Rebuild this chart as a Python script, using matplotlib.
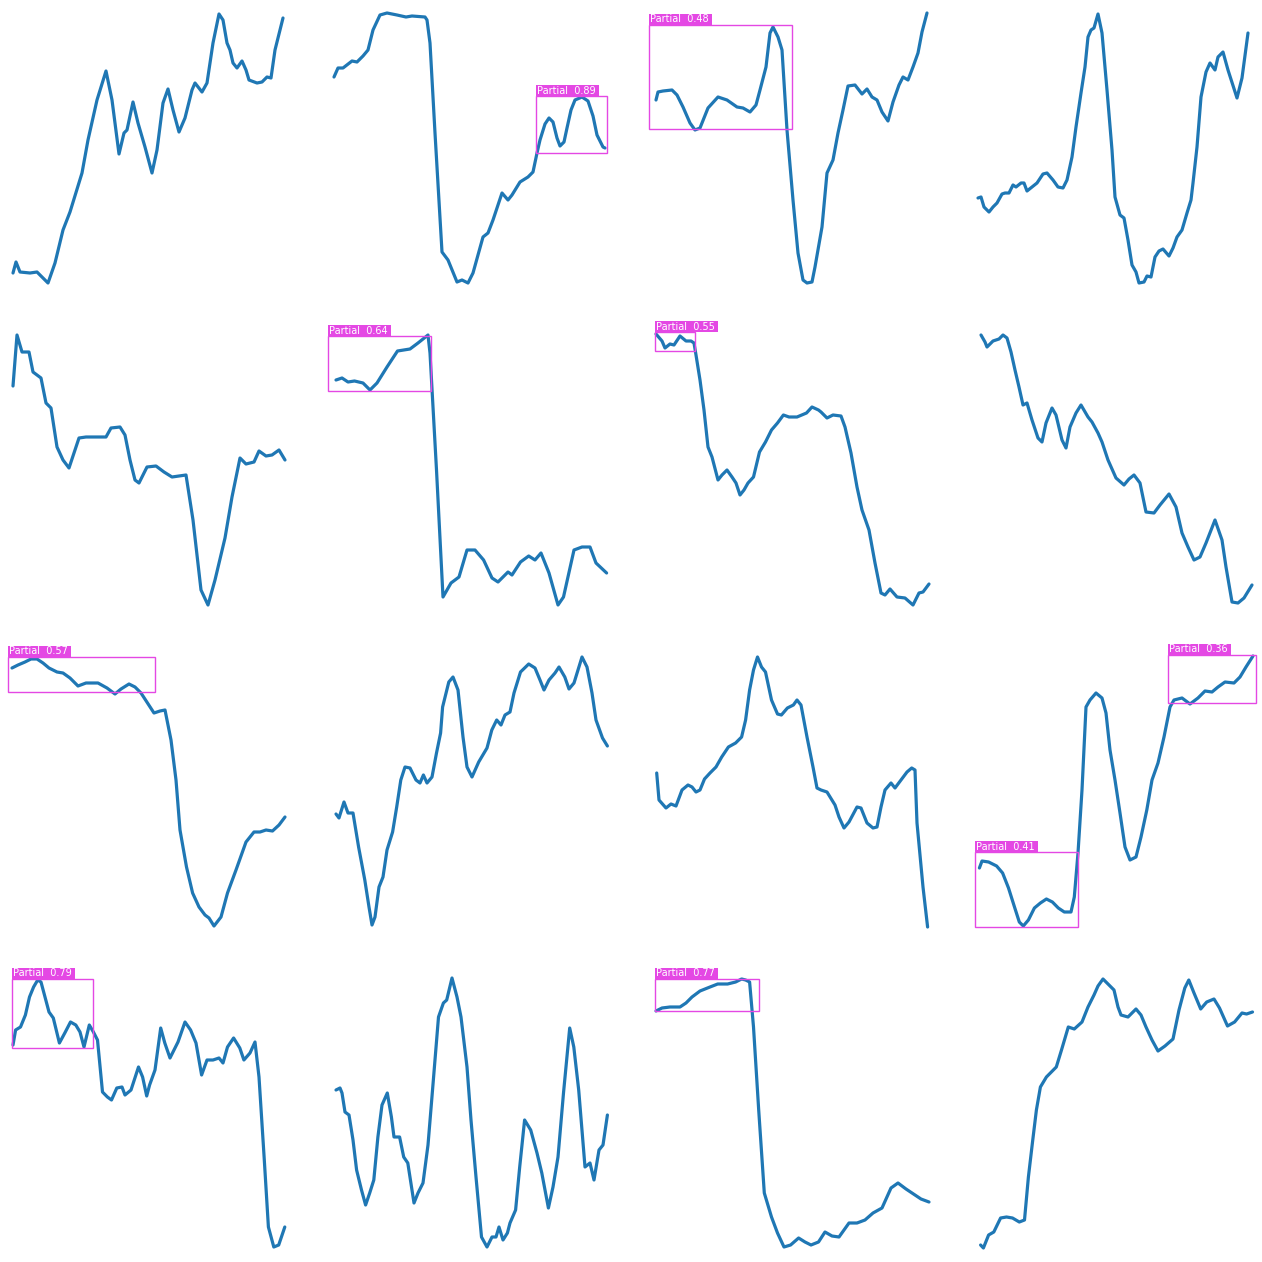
"""Cuadrícula 4x4 de series con detecciones 'Partial' superpuestas."""

import matplotlib

matplotlib.use("Agg")
from matplotlib import pyplot as plt  # noqa: E402
from matplotlib.patches import Rectangle  # noqa: E402

# Cada serie: posición horizontal y valor, en unidades locales del panel (0..285).
s01_x = [8, 11, 15, 25, 32, 43, 50, 58, 65, 77, 83, 92, 101, 107, 114, 119, 122, 128, 133, 140,
         147, 152, 158, 163, 168, 174, 180, 187, 190, 197, 202, 208, 214, 218, 222, 225, 228, 232,
         237, 241, 244, 252, 257, 262, 266, 270, 278]
s01_y = [17, 28, 18, 17, 18, 7, 27, 60, 78, 117, 150, 190, 219, 190, 136, 157, 160, 188, 167, 143,
         117, 140, 187, 201, 180, 158, 172, 200, 207, 198, 207, 247, 276, 270, 247, 240, 227, 222,
         229, 220, 210, 207, 208, 213, 212, 240, 272]

s02_x = [7, 11, 16, 25, 30, 36, 41, 46, 53, 60, 70, 79, 85, 98, 100, 103, 108, 115, 121, 130, 135,
         141, 146, 156, 161, 166, 175, 181, 185, 193, 201, 206, 210, 213, 218, 222, 226, 230, 233,
         237, 240, 244, 248, 255, 261, 266, 270, 276, 278]
s02_y = [213, 222, 222, 229, 228, 234, 240, 260, 275, 277, 275, 273, 274, 273, 270, 247, 157, 38,
         30, 8, 10, 7, 17, 53, 57, 70, 97, 90, 95, 108, 113, 118, 137, 150, 166, 172, 168, 152, 144,
         148, 162, 180, 190, 193, 189, 174, 155, 143, 142]

s03_x = [7, 9, 14, 23, 28, 34, 41, 46, 51, 59, 69, 78, 88, 94, 101, 107, 111, 117, 121, 124, 129,
         133, 138, 144, 149, 154, 158, 163, 166, 173, 178, 184, 189, 194, 199, 206, 213, 218, 223,
         228, 233, 239, 244, 250, 254, 259, 264, 269, 273, 278]
s03_y = [190, 198, 199, 200, 195, 183, 167, 160, 162, 182, 193, 190, 183, 182, 178, 185, 200, 223,
         257, 263, 253, 240, 160, 90, 37, 10, 7, 8, 23, 63, 117, 130, 157, 180, 204, 205, 196, 201,
         193, 190, 178, 169, 188, 205, 213, 210, 223, 237, 258, 277]

s04_x = [7, 10, 13, 18, 22, 26, 31, 34, 38, 42, 45, 50, 53, 56, 61, 66, 72, 76, 82, 87, 92, 96, 101,
         105, 110, 114, 117, 120, 123, 127, 131, 136, 141, 144, 149, 153, 157, 161, 165, 168, 173,
         176, 180, 184, 188, 192, 198, 202, 206, 211, 216, 220, 222, 226, 230, 235, 239, 244, 247,
         252, 257, 266, 271, 277]
s04_y = [92, 93, 83, 78, 83, 87, 96, 97, 97, 105, 103, 107, 107, 99, 103, 107, 116, 117, 110, 103,
         102, 110, 133, 163, 197, 223, 253, 260, 262, 276, 257, 200, 140, 93, 75, 72, 50, 25, 18, 7,
         8, 14, 13, 33, 39, 41, 34, 42, 53, 60, 77, 90, 107, 143, 193, 218, 227, 220, 233, 238, 220,
         192, 212, 257]

s05_x = [8, 12, 17, 24, 28, 36, 41, 46, 52, 58, 64, 69, 74, 81, 89, 101, 106, 115, 120, 125, 130,
         134, 142, 151, 159, 167, 181, 188, 196, 203, 210, 220, 227, 235, 241, 249, 254, 261, 267,
         274, 280]
s05_y = [226, 277, 260, 260, 240, 234, 209, 204, 165, 152, 144, 159, 174, 175, 175, 175, 184, 185,
         177, 152, 132, 129, 145, 146, 140, 135, 137, 92, 22, 7, 32, 74, 115, 154, 148, 150, 161,
         156, 157, 162, 152]

s06_x = [9, 15, 21, 27.5, 36, 43, 50, 60, 70.5, 83, 91, 101, 103, 109.5, 116, 124, 132, 140, 148,
         156.6, 165, 171, 181, 185, 193.5, 201.7, 208, 214, 222, 231, 236.5, 247, 255, 263, 269,
         279.6]
s06_y = [232, 234, 230, 231, 229, 222, 229, 245, 261, 263, 269, 277, 259, 142, 15, 29, 35, 62, 62,
         52, 34, 30, 40, 37, 50, 56, 52, 59, 39, 7, 15, 62, 65, 65, 49, 39]

s07_x = [7, 13, 16, 21, 25, 31, 37, 42, 45, 47, 51, 55, 59, 63, 69, 73, 78, 83, 87, 91, 95, 99,
         104.5, 110.5, 116.5, 122.5, 128.5, 134.4, 140, 148, 157.5, 163, 169.5, 172, 178, 184, 192,
         196, 202, 208, 213, 220, 226, 232, 236, 241, 248, 256, 264, 270, 274, 280]
s07_y = [278, 271, 264, 268, 267, 276, 271, 271, 269, 257, 232, 202, 165, 155, 132, 137, 142, 135,
         129, 117, 122, 129, 135, 160, 170, 182, 189, 197, 195, 195, 199, 205, 202, 200, 194, 197,
         196, 185, 159, 125, 102, 82, 49, 19, 17, 23, 15, 14, 7, 19, 20, 28]

s08_x = [10, 14, 16, 22, 28, 32, 36, 40, 44, 48, 52, 56, 61, 67, 71, 75, 81, 85, 91, 95, 99, 105,
         110, 117, 121, 127, 131, 137, 145, 153, 158, 163, 169, 175, 183, 189, 198, 205, 211, 217,
         223, 229, 235, 244, 251, 255, 261, 267, 273, 281]
s08_y = [277, 270, 265, 271, 273, 277, 274, 260, 242, 225, 207, 209, 192, 174, 170, 189, 204, 197,
         172, 164, 185, 199, 207, 195, 190, 179, 170, 152, 134, 127, 133, 137, 129, 100, 99, 107,
         118, 105, 79, 65, 52, 55, 69, 92, 72, 45, 10, 9, 14, 27]

s09_x = [7, 13, 20, 26, 32, 38, 44, 52, 58, 65, 73, 81, 93, 102, 110, 116, 124, 130, 136, 142.5,
         149, 155, 160, 166, 171, 175, 181.5, 187.6, 194, 200, 204, 209, 216, 222.5, 231, 241, 249,
         255, 261, 267.5, 274, 280]
s09_y = [266, 269, 272, 275, 275, 271, 266, 262, 261, 256, 248, 251, 251, 246, 240, 245, 250, 247,
         241, 231, 221, 223, 224, 194, 154, 104, 67, 41, 27, 19, 16, 8, 17, 41, 64, 92, 102, 102,
         104, 103, 109, 117]

s10_x = [9, 12, 17, 21, 26, 31.6, 37.8, 42, 45, 48, 52, 56, 60, 65.6, 69.7, 73.8, 78, 83, 89, 93,
         96.4, 100, 105, 109.5, 113.6, 115.6, 121.8, 126, 131, 136, 140, 145, 151.7, 160, 164.8,
         169.7, 174, 178, 183, 187, 193.5, 201.7, 208, 213, 217, 222, 228, 232, 237.8, 242, 247,
         255, 260, 265, 269, 275.5, 280.4]
s10_y = [120, 116, 132, 121, 121, 87, 54, 27, 9, 17, 47, 57, 84, 102, 127, 154, 167, 166, 154, 151,
         159, 151, 157, 181, 201, 227, 252, 257, 244, 197, 167, 157, 172, 186, 204, 214, 209, 219,
         222, 241, 262, 270, 266, 254, 244, 254, 261, 267, 257, 245, 251, 277, 267, 241, 214, 196,
         188]

s11_x = [7.7, 10, 17, 22, 27, 33, 39, 43, 47, 51, 55.5, 61, 67, 72.7, 79.4, 86.6, 92.6, 96.6, 100.6,
         104.5, 108.5, 112.5, 116.5, 122.5, 128.5, 132.4, 138.4, 144.4, 148, 152, 158, 164, 168,
         172, 178, 186, 190, 195, 200, 208, 212, 218, 224, 228, 232, 236, 242, 246, 252, 258, 262.7,
         266, 268, 274, 278.6]
s11_y = [161, 134, 126, 130, 128, 144, 149, 147, 142, 144, 155, 161, 167, 177, 187, 191, 197, 214,
         244, 264, 277, 267, 262, 234, 220, 219, 226, 229, 234, 229, 197, 167, 146, 144, 142, 129,
         117, 106, 112, 127, 126, 111, 106, 107, 127, 144, 151, 146, 154, 162, 166, 164, 111, 47, 7]

s12_x = [8.4, 11, 17.6, 25.6, 31.6, 37.5, 43.5, 48.3, 52.3, 57.4, 63.4, 69.4, 75.4, 81.4, 87.3, 93.3,
         100, 103.3, 107, 111, 115, 119, 125, 131, 135, 139, 144, 149, 154, 159, 165, 170, 175.8,
         181, 187, 193, 199, 203, 211, 219, 227, 234, 241, 247, 254, 263, 269, 275, 282]
s12_y = [66, 73, 72, 68, 61, 46, 27, 12, 8, 14, 26, 31, 35, 32, 26, 22, 22, 37, 81, 144, 227, 234,
         241, 236, 221, 184, 154, 121, 87, 74, 77, 97, 124, 154, 171, 197, 227, 234, 236, 230, 236,
         243, 242, 247, 252, 251, 257, 267, 278]

s13_x = [8, 10.6, 15.5, 20.4, 24.5, 28.6, 32.7, 36, 40, 44, 48.3, 54.4, 59.8, 65.5, 70.8, 75, 79,
         84.3, 88.4, 92.5, 97.5, 102.4, 106.5, 111.8, 117, 120, 126, 133.5, 137.6, 141.7, 144.6, 150,
         155.7, 159.8, 165, 173, 180, 185.6, 191, 196.6, 202, 208, 214, 218, 222.5, 228.6, 234.8,
         238.9, 245, 250, 254, 259.3, 263.4, 268.8, 273.7, 279.8]
s13_y = [211, 226, 229, 241, 259, 269, 276, 274, 259, 244, 238, 213, 223, 234, 231, 224, 209, 231,
         224, 216, 164, 159, 156, 168, 169, 161, 166, 189, 179, 160, 171, 186, 228, 213, 198, 214,
         234, 226, 213, 181, 196, 196, 198, 193, 209, 218, 208, 196, 203, 214, 179, 96, 29, 9, 11,
         29]

s14_x = [9, 13, 15, 18, 22, 26, 29.6, 34.5, 38.6, 42.7, 46.8, 50.9, 55, 60.3, 64.4, 67, 72.6, 76.7,
         80.8, 87, 91, 96, 101, 106.6, 111.5, 116.4, 119.7, 125, 130, 134, 140, 144, 149, 154.5,
         160, 165, 169, 172, 176, 180.4, 183, 188.6, 192.7, 197.6, 203.7, 210, 214.8, 221.4, 226,
         231, 236.5, 242.7, 246.8, 251.7, 258, 263, 267, 272, 276, 280.4]
s14_y = [166, 168, 163, 144, 141, 116, 86, 66, 51, 63, 76, 119, 151, 163, 139, 119, 119, 99, 93, 53,
         63, 73, 111, 179, 239, 253, 256, 278, 259, 239, 189, 136, 79, 19, 9, 19, 19, 29, 16, 23,
         33, 46, 89, 136, 126, 103, 83, 48, 69, 99, 163, 228, 209, 166, 89, 93, 76, 106, 111, 141]

s15_x = [7, 13, 21, 31, 37, 43, 51, 61, 68.7, 78.6, 86.6, 92.6, 96.6, 100.6, 104.5, 109.7, 115.3,
         122.5, 128.5, 135, 141.6, 149.6, 156, 162, 169.5, 176, 183, 190, 200, 208, 216, 224, 233,
         242, 249, 257, 266, 272, 280]
s15_y = [245, 248, 249, 249, 253, 259, 265, 269, 272, 272, 274, 277, 276, 274, 229, 146, 63, 39, 23,
         9, 11, 18, 14, 11, 14, 24, 20, 19, 33, 33, 36, 43, 48, 68, 73, 67, 61, 57, 54]

s16_x = [9.6, 12.4, 17.6, 22.8, 29.6, 35.5, 41.5, 48.3, 53.5, 57.4, 61.4, 65.4, 69.4, 75.4, 85.3,
         90.5, 97.3, 103.3, 111, 117, 123, 127, 132, 137, 143, 147, 150, 157, 165, 170, 175, 181,
         187, 194, 202, 208, 213.8, 217.8, 223, 229.7, 235.7, 243, 248.5, 256.5, 263.6, 271, 275.6,
         281.5]
s16_y = [11, 8, 21, 24, 38, 39, 38, 34, 36, 79, 113, 146, 169, 179, 189, 206, 229, 227, 234, 249,
         261, 270, 277, 272, 266, 249, 241, 239, 247, 241, 229, 216, 205, 210, 217, 246, 268, 276,
         263, 247, 254, 257, 248, 230, 234, 243, 242, 244]

SERIES = [
    (s01_x, s01_y), (s02_x, s02_y), (s03_x, s03_y), (s04_x, s04_y),
    (s05_x, s05_y), (s06_x, s06_y), (s07_x, s07_y), (s08_x, s08_y),
    (s09_x, s09_y), (s10_x, s10_y), (s11_x, s11_y), (s12_x, s12_y),
    (s13_x, s13_y), (s14_x, s14_y), (s15_x, s15_y), (s16_x, s16_y),
]

# Detecciones: índice de panel, x0, y0, x1, y1 (unidades locales) y confianza.
det_panel = [1, 2, 5, 6, 8, 11, 11, 12, 14]
det_x0 = [209, 0, 1, 6, 3, 4, 197, 7, 6]
det_y0 = [137, 161, 221, 261, 242, 7, 231, 208, 245]
det_x1 = [280, 143, 104, 46, 150, 107, 285, 88, 110]
det_y1 = [194, 265, 276, 280, 277, 82, 279, 277, 277]
det_score = [0.89, 0.48, 0.64, 0.55, 0.57, 0.41, 0.36, 0.79, 0.77]

FIG_PX = 1262
PANEL_PX = 285
STEP_PX = 322
ORIGIN_PX = 5
LINE_COLOR = "#1f77b4"
BOX_COLOR = "#e448e4"
LABEL_W = 63
LABEL_H = 11

fig = plt.figure(figsize=(FIG_PX / 100, FIG_PX / 100), dpi=100)
axes = []
for idx, (xs, ys) in enumerate(SERIES):
    row, col = divmod(idx, 4)
    left = (ORIGIN_PX + STEP_PX * col) / FIG_PX
    bottom = 1 - (ORIGIN_PX + STEP_PX * row + PANEL_PX) / FIG_PX
    ax = fig.add_axes([left, bottom, PANEL_PX / FIG_PX, PANEL_PX / FIG_PX])
    ax.plot(xs, ys, color=LINE_COLOR, linewidth=2.3, solid_joinstyle="round",
            solid_capstyle="round", clip_on=False)
    ax.set_xlim(0, PANEL_PX)
    ax.set_ylim(0, PANEL_PX)
    ax.axis("off")
    axes.append(ax)

for p, x0, y0, x1, y1, score in zip(det_panel, det_x0, det_y0, det_x1, det_y1, det_score):
    ax = axes[p]
    ax.add_patch(Rectangle((x0, y0), x1 - x0, y1 - y0, fill=False, edgecolor=BOX_COLOR,
                           linewidth=1.0, clip_on=False, zorder=3))
    ax.add_patch(Rectangle((x0, y1), LABEL_W, LABEL_H, facecolor=BOX_COLOR, edgecolor="none",
                           clip_on=False, zorder=4))
    ax.text(x0 + 1, y1 + LABEL_H / 2, f"Partial  {score:.2f}", color="white", fontsize=7.0,
            family="DejaVu Sans", ha="left", va="center", clip_on=False, zorder=5)

fig.savefig("out.png", dpi=100, facecolor="white")
